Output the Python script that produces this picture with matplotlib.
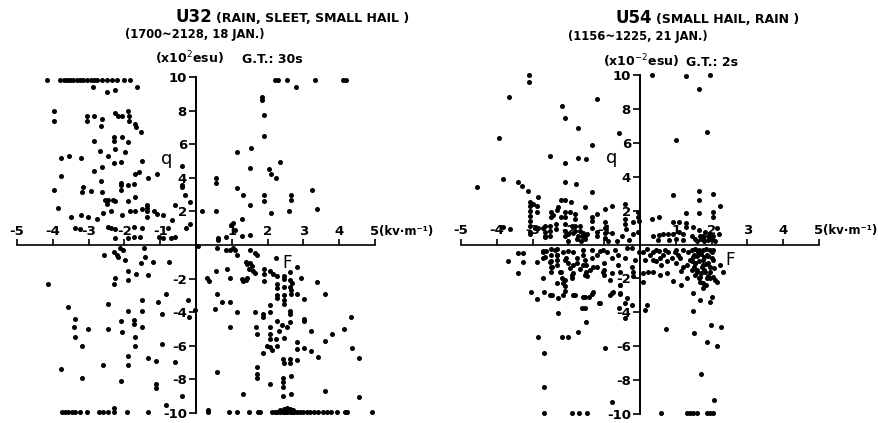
import matplotlib
matplotlib.use("Agg")
import matplotlib.pyplot as plt

plt.rcParams['font.family'] = ['DejaVu Sans']
plt.rcParams['axes.unicode_minus'] = False

W, H = 879, 423

# ---- U32, 18 Jan (F in kV/m, q in 1e-2 esu) ----
u32_upper_left = [
    (-3.97, 8.0), (-3.97, 7.4), (-3.04, 7.7), (-3.04, 7.4), (-2.85, 7.7), (-2.63, 7.5), (-2.65, 7.1),
    (-2.26, 7.85), (-2.18, 7.7), (-2.07, 7.7), (-1.9, 8.0), (-1.87, 7.65), (-1.87, 7.4), (-1.7, 7.2),
    (-1.68, 7.0), (-1.54, 6.7), (-2.85, 6.2), (-2.29, 6.4), (-2.29, 6.2), (-2.07, 6.4), (-1.9, 6.15),
    (-2.68, 5.6), (-2.26, 5.7), (-1.98, 5.55), (-2.46, 5.3), (-3.77, 5.15), (-3.55, 5.3), (-3.21, 5.2),
    (-2.29, 4.9), (-2.1, 4.95), (-1.51, 5.0), (-0.39, 4.7), (-2.85, 4.4), (-2.63, 4.65), (-3.77, 4.1),
    (-1.7, 4.25), (-1.59, 4.35), (-1.34, 4.0), (-1.09, 4.2), (-2.65, 3.8), (-2.1, 3.7), (-2.1, 3.55),
    (-1.9, 3.6), (-1.73, 3.65), (-0.39, 3.45), (-0.39, 3.6), (-3.97, 3.3), (-3.16, 3.45), (-3.18, 3.15),
    (-2.93, 3.2), (-2.63, 3.15), (-2.1, 3.25), (-0.31, 3.0), (-2.54, 2.65), (-2.46, 2.65), (-2.32, 2.7),
    (-2.26, 2.6), (-2.49, 2.45), (-1.9, 2.6), (-1.7, 2.85), (-0.17, 2.55), (-3.85, 2.2), (-1.37, 2.4),
    (-1.37, 2.2), (-0.59, 2.4), (-3.49, 1.65), (-3.21, 1.8), (-3.02, 1.65), (-2.77, 1.55), (-2.6, 1.9),
    (-2.37, 2.0), (-2.07, 1.8), (-1.84, 2.0), (-1.7, 2.05), (-1.51, 2.15), (-1.37, 2.0), (-1.17, 2.05),
    (-1.09, 1.85), (-0.92, 1.8), (-1.37, 1.65), (-0.67, 1.5), (-0.17, 1.25), (-0.28, 1.0), (-3.38, 1.0),
    (-3.24, 0.95), (-2.46, 1.05), (-2.37, 1.0), (-2.26, 0.95), (-1.73, 1.05), (-1.51, 1.0), (-0.78, 1.0),
    (-2.26, 0.4), (-1.9, 0.4), (-1.73, 0.45), (-1.56, 0.45), (-1.03, 0.45), (-0.92, 0.4), (-0.7, 0.4),
    (-0.59, 0.45), (-2.88, 9.4), (-2.49, 9.1), (-2.26, 9.2), (-1.65, 9.4),
]
u32_upper_right = [
    (0.17, 2.05), (0.56, 2.05), (0.56, 4.0), (0.56, 3.7), (0.61, 0.3), (1.84, 8.8), (1.84, 8.65),
    (2.79, 9.4), (1.9, 7.75), (1.9, 6.5), (1.15, 5.55), (1.54, 5.8), (1.51, 4.6), (2.04, 4.55),
    (2.35, 4.95), (2.09, 4.2), (2.23, 4.0), (1.15, 3.4), (1.31, 2.95), (1.9, 3.0), (1.9, 2.6),
    (1.51, 2.4), (2.65, 2.95), (2.65, 2.65), (2.6, 2.0), (2.09, 1.9), (3.24, 3.3), (3.38, 2.15),
    (1.03, 1.3), (1.09, 0.9), (1.28, 1.55), (1.28, 0.55), (1.51, 0.6), (0.84, 0.5), (0.98, 1.2),
    (0.61, 0.4),
]
u32_lower_left = [
    (-2.57, -0.6), (-2.29, -0.4), (-2.21, -0.6), (-2.12, -0.2), (-2.04, -0.3), (-1.98, -0.9),
    (-2.18, -0.7), (-1.45, -0.2), (-1.42, -0.7), (-1.54, -1.1), (-1.2, -1.0), (-0.75, -1.0),
    (-1.9, -1.55), (-1.68, -1.75), (-1.34, -1.8), (-4.13, -2.3), (-2.26, -1.95), (-2.29, -2.3),
    (-1.9, -2.1), (-0.84, -2.9), (-2.46, -3.5), (-1.51, -3.25), (-1.06, -3.4), (-0.22, -3.3),
    (-3.58, -3.7), (-1.9, -3.9), (-1.51, -3.9), (-0.95, -4.1), (-0.2, -4.3), (-0.03, -3.85),
    (-3.38, -4.4), (-3.41, -4.9), (-3.38, -5.5), (-3.18, -6.0), (-3.02, -5.0), (-2.46, -5.0),
    (-2.1, -4.55), (-2.07, -5.2), (-1.73, -4.45), (-1.73, -4.7), (-1.51, -4.9), (-1.7, -5.5),
    (-1.7, -6.0), (-0.95, -5.9), (-1.9, -6.6), (-1.9, -7.15), (-1.34, -6.75), (-1.12, -6.9),
    (-0.59, -6.95), (-3.77, -7.4), (-2.6, -7.15), (-3.18, -7.9), (-2.1, -8.1), (-1.12, -8.3),
    (-1.12, -8.5), (-0.39, -9.0), (-0.84, -9.55), (-2.29, -9.7),
]
u32_lower_right = [
    (0.06, -0.05), (0.59, -0.2), (0.84, -0.3), (0.95, -0.3), (1.03, -0.15), (1.15, -0.6), (1.09, -0.3),
    (1.51, -0.3), (1.65, -0.5), (1.7, -0.6), (2.23, -0.75), (1.4, -1.0), (1.42, -1.15), (1.51, -1.1),
    (1.56, -1.25), (1.48, -1.4), (1.59, -1.55), (1.65, -1.65), (1.9, -1.4), (1.9, -1.7), (1.9, -2.15),
    (2.07, -1.55), (2.15, -1.75), (2.26, -1.85), (2.63, -1.6), (2.82, -1.3), (2.93, -1.95), (2.46, -1.85),
    (2.46, -2.0), (2.63, -2.1), (2.68, -2.25), (2.26, -2.3), (2.26, -2.55), (2.46, -2.5), (2.63, -2.5),
    (2.65, -2.7), (2.26, -3.0), (2.26, -3.15), (2.46, -3.0), (2.46, -3.3), (2.65, -2.9), (2.82, -2.9),
    (2.46, -3.5), (2.63, -3.9), (2.63, -4.1), (3.02, -3.2), (3.38, -2.2), (3.6, -2.9), (0.31, -1.95),
    (0.36, -2.15), (0.56, -1.55), (0.87, -1.4), (0.95, -1.95), (1.28, -2.0), (1.31, -2.15), (1.4, -2.1),
    (1.42, -1.95), (0.59, -2.9), (0.73, -3.4), (0.95, -3.4), (0.53, -3.8), (1.15, -4.0), (1.65, -4.0),
    (1.87, -4.1), (1.87, -4.3), (2.07, -4.0), (2.07, -3.6), (2.26, -4.55), (2.4, -4.75), (2.54, -4.9),
    (2.63, -4.6), (2.32, -5.1), (0.95, -4.9), (1.68, -4.9), (1.7, -5.3), (2.07, -4.9), (2.07, -5.3),
    (2.07, -5.6), (2.23, -5.6), (2.26, -6.0), (2.46, -5.55), (1.98, -6.0), (2.07, -6.1), (2.12, -6.25),
    (1.87, -6.4), (3.02, -4.4), (3.02, -4.55), (3.21, -5.1), (3.6, -5.7), (3.8, -5.3), (4.13, -5.0),
    (4.33, -4.3), (2.82, -5.8), (2.82, -6.2), (3.02, -6.15), (3.21, -6.3), (3.41, -6.65), (4.36, -6.15),
    (4.55, -6.75), (2.43, -6.8), (2.46, -7.0), (2.63, -6.8), (2.63, -7.0), (2.82, -6.85), (0.59, -7.55),
    (1.7, -7.25), (1.7, -7.7), (1.7, -7.9), (2.07, -8.3), (2.43, -7.9), (2.43, -8.15), (2.65, -7.8),
    (2.43, -8.45), (2.43, -9.0), (2.65, -8.85), (1.31, -8.85), (3.6, -8.7), (4.55, -9.05), (0.34, -9.8),
    (2.35, -9.8), (2.45, -9.75), (2.55, -9.7), (2.62, -9.75), (2.72, -9.8), (2.5, -9.85),
]
# readings pinned at the +/-10 limits
u32_top_f = [-4.16, -3.8, -3.69, -3.6, -3.52, -3.44, -3.32, -3.24, -3.16, -3.04, -2.93, -2.85, -2.77,
             -2.63, -2.49, -2.35, -2.21, -2.01, -1.85, 2.2, 2.29, 2.54, 3.32, 4.1, 4.18]
u32_bottom_f = [-3.74, -3.66, -3.58, -3.46, -3.38, -3.24, -3.04, -2.71, -2.6, -2.46, -2.29, -1.93, -1.34,
                0.34, 0.92, 1.15, 1.48, 1.73, 1.79, 2.12, 2.2, 2.26, 2.35, 2.43, 2.49, 2.54, 2.63, 2.68,
                2.74, 2.82, 2.9, 2.99, 3.1, 3.18, 3.3, 3.41, 3.55, 3.66, 3.77, 3.94, 4.16, 4.22, 4.92]

# ---- U54, 21 Jan ----
u54_upper_left = [
    (-3.11, 10.0), (-3.11, 9.6), (-3.67, 8.7), (-2.18, 8.2), (-1.2, 8.6), (-2.1, 7.45), (-1.74, 6.85),
    (-0.59, 6.6), (-3.95, 6.3), (-1.34, 5.85), (-2.52, 5.2), (-2.1, 4.8), (-1.74, 5.1), (-1.51, 5.05),
    (-3.84, 3.85), (-3.42, 3.7), (-3.31, 3.45), (-3.14, 3.15), (-4.54, 3.4), (-2.1, 3.7), (-1.79, 3.55),
    (-1.34, 3.1), (-2.86, 2.8), (-2.21, 2.6), (-2.1, 2.6), (-1.93, 2.5),
    (-3.08, 2.5), (-3.08, 2.25), (-3.08, 1.95), (-3.08, 1.7), (-3.08, 1.4), (-3.08, 1.1), (-3.08, 0.75),
    (-3.08, 0.6), (-2.89, 2.25), (-2.89, 1.9), (-2.86, 1.0), (-2.66, 1.1), (-2.66, 0.75), (-2.66, 0.5),
    (-2.49, 1.9), (-2.49, 1.6), (-2.44, 1.75), (-2.32, 2.05), (-2.3, 2.2), (-2.21, 1.65), (-2.35, 1.2),
    (-2.35, 0.9), (-2.52, 1.1), (-2.52, 0.8), (-2.52, 0.5),
    (-2.1, 1.9), (-2.1, 1.6), (-1.96, 1.9), (-1.82, 1.8), (-1.82, 1.5), (-1.9, 1.1), (-1.88, 0.7),
    (-2.1, 1.2), (-2.1, 0.8), (-2.1, 0.5), (-2.02, 0.6), (-1.82, 1.1), (-1.82, 0.8), (-1.68, 1.1),
    (-1.68, 0.8), (-1.6, 0.7), (-1.54, 0.5), (-1.48, 0.6), (-1.62, 0.5), (-1.74, 0.5),
    (-1.54, 2.2), (-1.34, 1.65), (-1.34, 1.4), (-1.34, 1.0), (-1.2, 1.8), (-0.98, 2.1), (-0.78, 2.3),
    (-0.42, 2.4), (-1.2, 0.75), (-1.2, 0.5), (-0.98, 1.3), (-0.98, 1.0), (-0.98, 0.7), (-0.98, 0.4),
    (-0.78, 0.65), (-0.42, 1.5), (-0.42, 1.2), (-0.39, 0.9), (-0.2, 1.3), (-0.2, 0.6), (-0.06, 1.9),
    (-0.06, 1.65), (-0.06, 0.75), (-0.03, 1.4), (-0.5, 0.5), (-3.84, 1.05), (-3.64, 0.9),
    (-3.0, 2.37), (-2.94, 1.0), (-2.72, 1.0), (-2.66, 0.47),
    (-1.75, 0.3), (-1.65, 0.2), (-1.55, 0.3), (-2.0, 0.2), (-0.9, 0.2), (-0.65, 0.2), (-0.3, 0.25),
]
u54_upper_right = [
    (0.34, 10.0), (1.29, 9.95), (1.96, 10.0), (1.65, 9.2), (1.0, 6.15), (1.88, 6.65), (0.92, 2.9),
    (1.65, 3.15), (1.65, 2.6), (2.04, 3.0), (2.24, 2.25), (2.04, 1.9), (2.04, 1.65), (1.65, 1.85),
    (0.34, 1.5), (0.53, 1.65), (0.92, 1.3), (1.09, 1.35), (1.29, 1.85), (1.29, 1.25), (1.29, 1.05),
    (1.48, 1.05), (1.09, 0.75), (0.92, 0.6), (0.78, 0.6), (0.64, 0.6), (0.53, 0.55), (0.36, 0.5),
    (1.65, 0.85), (1.82, 0.75), (1.96, 0.6), (2.16, 1.0), (2.21, 0.6), (2.04, 0.5), (1.9, 0.5),
    (1.76, 0.5), (1.68, 0.5), (1.46, 0.5), (1.2, 0.6),
    (1.6, 0.2), (1.7, 0.3), (1.8, 0.2), (1.9, 0.25), (2.0, 0.3), (2.1, 0.2), (1.55, 0.35), (1.75, 0.4),
    (1.95, 0.35), (0.8, 0.25), (1.0, 0.3), (1.2, 0.25), (0.5, 0.25),
]
u54_lower_left = [
    (-3.42, -0.5), (-3.28, -0.5), (-3.7, -1.0), (-3.28, -1.05), (-2.89, -1.05), (-3.42, -1.7),
    (-2.72, -0.47), (-2.72, -0.77), (-2.63, -0.41), (-2.49, -0.24), (-2.49, -0.59), (-2.49, -0.95),
    (-2.49, -1.3), (-2.49, -1.6), (-2.32, -0.24), (-2.32, -0.59), (-2.32, -0.89), (-2.32, -1.18),
    (-2.21, -1.6), (-2.16, -0.47), (-2.07, -0.77), (-2.02, -0.41), (-2.02, -1.07), (-1.96, -1.36),
    (-1.88, -1.66), (-1.88, -0.47), (-1.76, -0.77), (-1.76, -1.12), (-1.68, -1.42), (-1.6, -0.3),
    (-1.6, -0.59), (-1.54, -0.89), (-1.51, -1.18), (-1.51, -1.6), (-1.48, -1.83), (-1.34, -0.3),
    (-1.34, -0.77), (-1.32, -1.3), (-1.2, -0.59), (-1.12, -0.41), (-1.04, -0.3), (-1.01, -1.07),
    (-1.01, -1.48), (-1.01, -1.78), (-0.92, -0.47), (-0.78, -0.77), (-0.78, -1.66), (-0.62, -0.59),
    (-0.62, -1.18), (-0.56, -1.6), (-0.42, -0.77), (-0.22, -0.18), (-0.22, -1.3), (-0.2, -1.6),
    (-0.2, -1.83), (-0.14, -0.89), (-0.02, -0.47),
    (-2.32, -2.25), (-2.1, -2.07), (-2.1, -2.43), (-2.1, -2.72), (-1.9, -1.95),
    (-3.05, -2.78), (-2.89, -3.2), (-2.69, -2.78), (-2.52, -2.96), (-2.3, -3.14), (-1.82, -2.96),
    (-1.54, -3.08), (-1.43, -3.08), (-1.32, -2.78), (-1.15, -3.43), (-0.78, -2.84), (-0.56, -2.37),
    (-0.56, -2.84), (-0.59, -3.73), (-0.42, -3.43), (-0.22, -3.55), (-0.42, -4.32),
    (-1.62, -3.73), (-1.54, -3.73), (-2.3, -4.02), (-1.51, -4.56), (-1.74, -5.15), (-2.18, -5.44),
    (-2.02, -5.44), (-2.86, -5.44), (-2.69, -6.39), (-0.98, -6.1), (-2.69, -8.4), (-0.78, -9.29),
    (-2.72, -0.41), (-2.66, -0.71), (-2.52, -1.01), (-2.46, -1.3), (-2.38, -0.3), (-2.32, -0.59),
    (-2.24, -1.6), (-2.18, -1.95), (-2.16, -2.25), (-2.1, -0.89), (-1.9, -1.78), (-1.88, -1.18),
    (-1.6, -1.18), (-1.54, -1.78), (-1.4, -1.48), (-2.72, -1.95), (-2.46, -2.96), (-2.16, -2.96),
    (-1.88, -2.96), (-1.6, -3.08), (-1.34, -2.9), (-1.12, -3.43), (-0.84, -2.96), (-0.76, -2.78),
    (-0.56, -2.9), (-0.84, -2.07), (-0.56, -2.37), (-0.36, -3.14), (-1.2, -1.3), (-1.04, -1.6),
    (-0.7, -0.3), (-0.36, -0.18),
]
u54_lower_right = [
    (0.08, -0.47), (0.14, -0.89), (0.28, -0.59), (0.36, -0.89), (0.08, -1.66), (0.22, -1.6),
    (0.08, -2.19), (0.2, -3.55), (0.14, -3.85),
    (0.36, -0.47), (0.53, -0.41), (0.56, -0.77), (0.64, -0.59), (0.78, -0.47), (0.9, -0.77),
    (0.98, -0.47), (1.06, -0.59), (1.12, -0.77), (0.36, -1.6), (0.56, -1.78), (0.76, -1.66),
    (0.92, -2.13), (1.15, -2.37), (1.15, -1.54), (1.32, -1.95), (1.32, -1.18), (1.34, -0.47),
    (1.4, -0.89), (1.46, -1.48), (1.48, -0.71), (1.54, -1.07), (1.6, -1.6), (1.62, -0.47),
    (1.68, -1.89), (1.68, -2.19), (1.76, -2.54), (1.74, -1.3), (1.76, -0.89), (1.82, -1.6),
    (1.88, -0.59), (1.88, -1.95), (1.9, -1.07), (1.96, -1.6), (2.02, -0.47), (2.04, -0.89),
    (2.07, -1.36), (2.1, -2.07), (2.16, -2.19), (2.24, -1.18), (2.32, -1.6), (1.48, -2.84),
    (1.68, -3.25), (1.96, -3.37), (2.02, -3.08), (1.48, -3.91), (0.73, -4.97), (1.51, -5.21),
    (1.99, -4.73), (2.27, -4.85), (1.88, -5.74), (2.16, -5.98), (1.71, -7.63), (2.07, -9.17),
    (1.45, -0.3), (1.55, -0.25), (1.65, -0.35), (1.75, -0.3), (1.85, -0.25), (1.95, -0.35),
    (2.05, -0.3), (1.5, -0.6), (1.6, -0.7), (1.7, -0.55), (1.8, -0.75), (1.9, -0.65), (2.0, -0.8),
    (1.45, -1.0), (1.55, -1.1), (1.65, -1.0), (1.75, -1.2), (1.85, -1.15), (1.95, -1.3), (1.5, -1.35),
    (1.6, -1.5), (1.7, -1.7), (1.8, -1.5), (1.9, -1.85), (1.55, -1.8), (1.65, -2.0), (1.75, -2.3),
    (1.85, -2.4), (1.95, -2.0), (2.05, -1.9), (0.2, -0.25), (0.45, -0.3), (0.7, -0.3), (1.0, -0.3),
    (1.2, -0.35), (0.45, -1.0), (0.6, -1.2), (0.75, -1.0), (1.0, -1.1), (1.2, -1.3),
]
u54_bottom_f = [-2.69, -1.9, -1.71, -1.48, 0.59, 1.32, 1.4, 1.48, 1.6, 1.88, 1.96, 2.04]

f_ticks = [-5, -4, -3, -2, -1, 1, 2, 3, 4, 5]
q_ticks = [-10, -8, -6, -4, -2, 2, 4, 6, 8, 10]

XLIM = (-5.5, 6.6)
YLIM = (-10.6, 10.8)
DOT = 13


def place_axes(fig, fx, qy):
    # fx: pixel columns of F=-5 and F=5, qy: pixel rows of q=10 and q=-10
    sx = (fx[1] - fx[0]) / 10.0
    sy = (qy[1] - qy[0]) / 20.0
    left = fx[0] + (XLIM[0] + 5) * sx
    width = (XLIM[1] - XLIM[0]) * sx
    top = qy[0] - (YLIM[1] - 10) * sy
    bottom = qy[1] + (-10 - YLIM[0]) * sy
    return fig.add_axes([left / W, 1 - bottom / H, width / W, (bottom - top) / H])


def draw_panel(ax, groups, top_f, bottom_f, q_text, f_text):
    for pts in groups:
        f, q = zip(*pts)
        ax.scatter(f, q, s=DOT, c='black', linewidths=0)
    if top_f:
        ax.scatter(top_f, [9.8] * len(top_f), s=DOT, c='black', linewidths=0)
    ax.scatter(bottom_f, [-9.95] * len(bottom_f), s=DOT, c='black', linewidths=0)

    ax.set_xlim(*XLIM)
    ax.set_ylim(*YLIM)
    for side in ('top', 'right'):
        ax.spines[side].set_visible(False)
    ax.spines['left'].set_position(('data', 0))
    ax.spines['bottom'].set_position(('data', 0))
    ax.spines['left'].set_bounds(-10, 10)
    ax.spines['bottom'].set_bounds(-5, 5)
    ax.spines['left'].set_linewidth(1.4)
    ax.spines['bottom'].set_linewidth(1.2)
    ax.patch.set_visible(False)

    ax.set_yticks(q_ticks)
    ax.set_yticklabels([str(t) for t in q_ticks], fontsize=9.5, fontweight='bold')
    ax.tick_params(axis='y', direction='out', length=5, width=1.2, pad=1.5)
    ax.set_xticks(f_ticks)
    ax.set_xticklabels([])
    ax.tick_params(axis='x', direction='in', length=4, width=1.2)
    for t in f_ticks:
        ax.annotate(str(t), xy=(t, 0), xytext=(0, 7.5), textcoords='offset points',
                    ha='center', va='baseline', fontsize=9.5, fontweight='bold')
    ax.annotate('(kv·m⁻¹)', xy=(5, 0), xytext=(3, 7.5), textcoords='offset points',
                ha='left', va='baseline', fontsize=8.5, fontweight='bold')

    ax.text(q_text[0], q_text[1], 'q', fontsize=13, ha='center', va='center')
    ax.text(f_text[0], f_text[1], 'F', fontsize=12, ha='center', va='center')


def header(fig, name, x_name, rest, x_rest, y1, period, x_per, y2, units, x_units, gt, x_gt, y3):
    fig.text(x_name / W, 1 - y1 / H, name, fontsize=12, fontweight='bold', ha='right', va='baseline')
    fig.text(x_rest / W, 1 - y1 / H, rest, fontsize=9, fontweight='bold', ha='left', va='baseline')
    fig.text(x_per / W, 1 - y2 / H, period, fontsize=8.3, fontweight='bold', ha='left', va='baseline')
    fig.text(x_units / W, 1 - y3 / H, units, fontsize=9, fontweight='bold', ha='left', va='baseline')
    fig.text(x_gt / W, 1 - y3 / H, gt, fontsize=9, fontweight='bold', ha='left', va='baseline')


fig = plt.figure(figsize=(W / 100, H / 100), dpi=100)

ax1 = place_axes(fig, (17, 375), (77, 413))
draw_panel(ax1, [u32_upper_left, u32_upper_right, u32_lower_left, u32_lower_right],
           u32_top_f, u32_bottom_f, (-0.81, 5.1), (2.54, -1.05))
header(fig, 'U32', 212, '(RAIN, SLEET, SMALL HAIL )', 216, 21.7,
       '(1700~2128, 18 JAN.)', 125, 38, '(x10$^{2}$esu)', 155, 'G.T.: 30s', 242, 63)

ax2 = place_axes(fig, (461, 819), (75, 414))
draw_panel(ax2, [u54_upper_left, u54_upper_right, u54_lower_left, u54_lower_right],
           [], u54_bottom_f, (-0.78, 5.1), (2.52, -0.9))
header(fig, 'U54', 652, '(SMALL HAIL, RAIN )', 656, 22.7,
       '(1156~1225, 21 JAN.)', 568, 40, '(x10$^{-2}$esu)', 603, 'G.T.: 2s', 686, 66)

fig.savefig('out.png', dpi=100)
